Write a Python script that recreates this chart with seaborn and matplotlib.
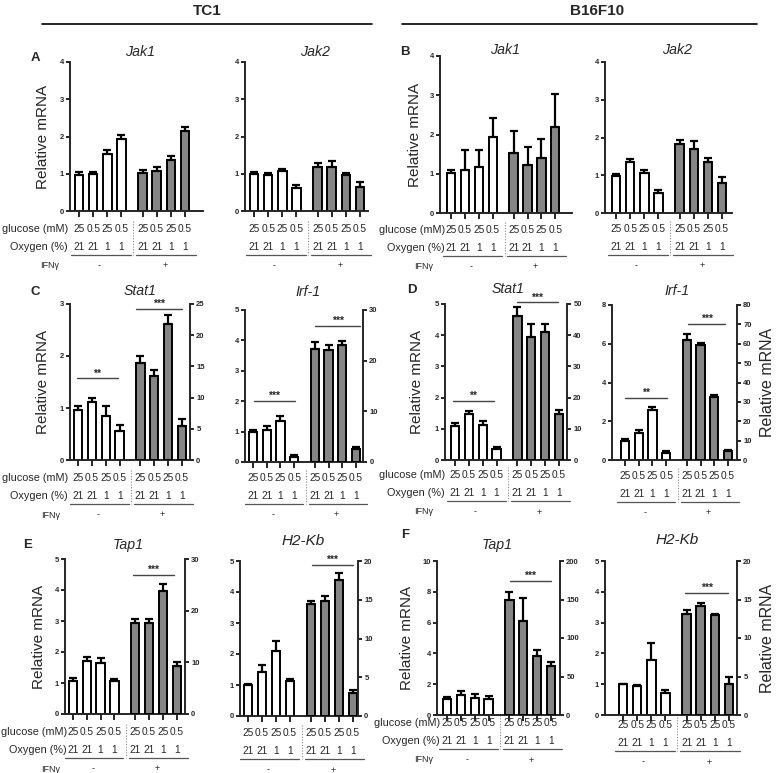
import numpy as np
import pandas as pd
import matplotlib
matplotlib.use('Agg')
import matplotlib.pyplot as plt
import matplotlib.transforms as mtransforms
import seaborn as sns

# ---- table under each panel
glucose = ['25', '0.5', '25', '0.5']
oxygen = ['21', '21', '1', '1']
ifng = ['-', '+']

# ---- data: mean and upper SEM; "minus" = no IFNy (white, left axis),
# "plus" = IFNy (grey, right axis when a panel has one)
tc1_jak1_minus, tc1_jak1_minus_sem = [0.96, 1.00, 1.53, 1.94], [0.08, 0.05, 0.12, 0.11]
tc1_jak1_plus, tc1_jak1_plus_sem = [1.02, 1.08, 1.36, 2.16], [0.08, 0.11, 0.12, 0.09]
tc1_jak2_minus, tc1_jak2_minus_sem = [1.00, 0.97, 1.07, 0.63], [0.04, 0.05, 0.05, 0.08]
tc1_jak2_plus, tc1_jak2_plus_sem = [1.18, 1.17, 0.97, 0.65], [0.10, 0.18, 0.06, 0.12]

b16_jak1_minus, b16_jak1_minus_sem = [1.02, 1.10, 1.17, 1.93], [0.08, 0.50, 0.43, 0.49]
b16_jak1_plus, b16_jak1_plus_sem = [1.53, 1.23, 1.40, 2.20], [0.57, 0.44, 0.49, 0.82]
b16_jak2_minus, b16_jak2_minus_sem = [0.98, 1.34, 1.05, 0.53], [0.04, 0.08, 0.09, 0.09]
b16_jak2_plus, b16_jak2_plus_sem = [1.83, 1.70, 1.36, 0.80], [0.10, 0.20, 0.11, 0.16]

tc1_stat1_minus, tc1_stat1_minus_sem = [0.96, 1.12, 0.85, 0.56], [0.08, 0.08, 0.19, 0.11]
tc1_stat1_plus, tc1_stat1_plus_sem = [15.6, 13.4, 21.8, 5.5], [1.0, 1.0, 1.4, 1.1]
tc1_irf1_minus, tc1_irf1_minus_sem = [0.99, 1.06, 1.35, 0.15], [0.07, 0.13, 0.16, 0.07]
tc1_irf1_plus, tc1_irf1_plus_sem = [22.4, 22.1, 23.0, 2.6], [1.3, 1.0, 0.9, 0.4]

b16_stat1_minus, b16_stat1_minus_sem = [1.09, 1.48, 1.12, 0.35], [0.08, 0.08, 0.13, 0.08]
b16_stat1_plus, b16_stat1_plus_sem = [46.2, 39.3, 41.0, 14.6], [2.7, 4.4, 2.6, 1.5]
b16_irf1_minus, b16_irf1_minus_sem = [1.00, 1.40, 2.57, 0.35], [0.06, 0.13, 0.17, 0.10]
b16_irf1_plus, b16_irf1_plus_sem = [62.1, 59.2, 32.5, 4.5], [2.8, 1.2, 1.2, 0.6]

tc1_tap1_minus, tc1_tap1_minus_sem = [1.05, 1.71, 1.66, 1.08], [0.10, 0.14, 0.16, 0.04]
tc1_tap1_plus, tc1_tap1_plus_sem = [17.7, 17.7, 23.8, 9.3], [0.6, 0.6, 1.3, 0.7]
tc1_h2kb_minus, tc1_h2kb_minus_sem = [1.00, 1.43, 2.10, 1.13], [0.03, 0.20, 0.33, 0.06]
tc1_h2kb_plus, tc1_h2kb_plus_sem = [14.5, 14.9, 17.6, 3.0], [0.3, 0.6, 0.8, 0.4]

b16_tap1_minus, b16_tap1_minus_sem = [1.04, 1.33, 1.12, 1.03], [0.10, 0.20, 0.22, 0.22]
b16_tap1_plus, b16_tap1_plus_sem = [149, 122, 76, 64], [11, 30, 8, 5]
b16_h2kb_minus, b16_h2kb_minus_sem = [1.00, 0.93, 1.80, 0.73], [0.0, 0.04, 0.55, 0.09]
b16_h2kb_plus, b16_h2kb_plus_sem = [13.1, 14.2, 13.0, 4.0], [0.5, 0.3, 0.1, 0.9]

# ---- layout (pixels in a 778x773 canvas)
panels = [
    dict(rect=(70, 62, 203, 211), xlim=(-0.64, 8.78), left=(4, 1), right=None, title='Jak1', tpos=(140, 52),
         letter='A', lpos=(35, 58), ylab=('left', 43), rowlab=(68, 59), gy=229,
         data=(tc1_jak1_minus, tc1_jak1_minus_sem, tc1_jak1_plus, tc1_jak1_plus_sem), sig=[]),
    dict(rect=(245, 62, 368, 211), xlim=(-0.64, 8.07), left=(4, 1), right=None, title='Jak2', tpos=(315, 52),
         gy=229, data=(tc1_jak2_minus, tc1_jak2_minus_sem, tc1_jak2_plus, tc1_jak2_plus_sem), sig=[]),
    dict(rect=(440, 56, 572, 213), xlim=(-0.8, 8.7), left=(4, 1), right=None, title='Jak1', tpos=(505, 50),
         letter='B', lpos=(405, 52), ylab=('left', 415), rowlab=(445, 433), gy=230,
         data=(b16_jak1_minus, b16_jak1_minus_sem, b16_jak1_plus, b16_jak1_plus_sem), sig=[]),
    dict(rect=(605, 62, 732, 213), xlim=(-0.78, 8.2), left=(4, 1), right=None, title='Jak2', tpos=(677, 50),
         gy=229, data=(b16_jak2_minus, b16_jak2_minus_sem, b16_jak2_plus, b16_jak2_plus_sem), sig=[]),
    dict(rect=(70, 304, 190, 460), xlim=(-0.58, 8.08), left=(3, 1), right=(25, 5), title='Stat1', tpos=(140, 291),
         letter='C', lpos=(35, 292), ylab=('left', 43), rowlab=(68, 60), gy=478,
         data=(tc1_stat1_minus, tc1_stat1_minus_sem, tc1_stat1_plus, tc1_stat1_plus_sem),
         sig=[(-0.1, 2.9, 1.57, '**'), (4.15, 7.5, 2.9, '***')]),
    dict(rect=(245, 310, 363, 462), xlim=(-0.58, 8.0), left=(5, 1), right=(30, 10), title='Irf-1', tpos=(308, 292),
         gy=478, data=(tc1_irf1_minus, tc1_irf1_minus_sem, tc1_irf1_plus, tc1_irf1_plus_sem),
         sig=[(0.05, 3.05, 2.0, '***'), (4.5, 7.8, 4.48, '***')]),
    dict(rect=(445, 304, 567, 460), xlim=(-0.72, 8.08), left=(5, 1), right=(50, 10), title='Stat1', tpos=(508, 289),
         letter='D', lpos=(412, 290), ylab=('left', 417), rowlab=(445, 433), gy=475,
         data=(b16_stat1_minus, b16_stat1_minus_sem, b16_stat1_plus, b16_stat1_plus_sem),
         sig=[(-0.15, 2.8, 1.89, '**'), (4.45, 7.4, 5.05, '***')]),
    dict(rect=(612, 305, 737, 460), xlim=(-0.95, 8.16), left=(8, 2), right=(80, 10), title='Irf-1', tpos=(677, 291),
         ylab=('right', 767), gy=476,
         data=(b16_irf1_minus, b16_irf1_minus_sem, b16_irf1_plus, b16_irf1_plus_sem),
         sig=[(0.0, 3.07, 3.2, '**'), (4.6, 7.3, 7.03, '***')]),
    dict(rect=(65, 559, 185, 714), xlim=(-0.57, 8.1), left=(5, 1), right=(30, 10), title='Tap1', tpos=(128, 545),
         letter='E', lpos=(28, 545), ylab=('left', 39), rowlab=(67, 60), gy=732,
         data=(tc1_tap1_minus, tc1_tap1_minus_sem, tc1_tap1_plus, tc1_tap1_plus_sem),
         sig=[(4.35, 7.27, 4.49, '***')]),
    dict(rect=(240, 561, 358, 716), xlim=(-0.57, 7.86), left=(5, 1), right=(20, 5), title='H2-Kb', tpos=(303, 541),
         gy=733, data=(tc1_h2kb_minus, tc1_h2kb_minus_sem, tc1_h2kb_plus, tc1_h2kb_plus_sem),
         sig=[(4.57, 7.5, 4.86, '***')]),
    dict(rect=(437, 561, 560, 715), xlim=(-0.72, 8.15), left=(10, 2), right=(200, 50), title='Tap1', tpos=(497, 545),
         letter='F', lpos=(405, 535), ylab=('left', 407), rowlab=(440, 433), gy=723,
         data=(b16_tap1_minus, b16_tap1_minus_sem, b16_tap1_plus, b16_tap1_plus_sem),
         sig=[(4.53, 7.48, 8.68, '***')]),
    dict(rect=(605, 561, 737, 715), xlim=(-1.28, 8.07), left=(5, 1), right=(20, 5), title='H2-Kb', tpos=(677, 540),
         ylab=('right', 767), gy=725,
         data=(b16_h2kb_minus, b16_h2kb_minus_sem, b16_h2kb_plus, b16_h2kb_plus_sem),
         sig=[(4.4, 7.45, 3.96, '***')]),
]

pos_minus = [0, 1, 2, 3]
pos_plus = [4.5, 5.5, 6.5, 7.5]
WHITE, GREY = 'white', '#858585'
W, H = 778, 773

sns.set_style('ticks')
plt.rcParams['font.family'] = ['Liberation Sans', 'DejaVu Sans']

fig = plt.figure(figsize=(W / 100, H / 100), dpi=100)


def fx(x):
    return x / W


def fy(y):
    return 1 - y / H


def bars(ax, pos, vals, sem, color):
    df = pd.DataFrame({'pos': pos, 'val': vals})
    sns.barplot(data=df, x='pos', y='val', native_scale=True, width=0.6, color=color, saturation=1,
                edgecolor='black', linewidth=1.4, errorbar=None, ax=ax)
    ax.errorbar(pos, vals, yerr=[np.zeros(len(sem)), sem], fmt='none', ecolor='black',
                elinewidth=1.6, capsize=2.6, capthick=1.6, zorder=3)


def style_y(ax, top, step):
    ax.set_ylim(0, top)
    ax.set_yticks(np.arange(0, top + step / 2, step))
    ax.tick_params(axis='y', length=3, width=1.4, labelsize=5.5, pad=1.5)
    for lab in ax.get_yticklabels():
        lab.set_fontweight('bold')
    ax.set_ylabel('')
    ax.set_xlabel('')


for p in panels:
    l, t, r, b = p['rect']
    ax = fig.add_axes([fx(l), fy(b), fx(r) - fx(l), fy(t) - fy(b)])
    m, ms, pl, ps = p['data']
    bars(ax, pos_minus, m, ms, WHITE)
    if p['right'] is None:
        bars(ax, pos_plus, pl, ps, GREY)
    else:
        ax2 = ax.twinx()
        bars(ax2, pos_plus, pl, ps, GREY)
        style_y(ax2, p['right'][0], p['right'][1])
        for s in ['top', 'left', 'bottom']:
            ax2.spines[s].set_visible(False)
        ax2.spines['right'].set_linewidth(1.4)
    style_y(ax, p['left'][0], p['left'][1])
    for s in ['top', 'right']:
        ax.spines[s].set_visible(False)
    for s in ['left', 'bottom']:
        ax.spines[s].set_linewidth(1.4)
    ax.set_xticks(pos_minus + pos_plus)
    ax.set_xticklabels([])
    ax.tick_params(axis='x', length=4, width=1.4)
    ax.set_xlim(*p['xlim'])

    # table under the axis
    trans = mtransforms.blended_transform_factory(ax.transData, fig.transFigure)
    gy = p['gy']
    for x, g, o in zip(pos_minus + pos_plus, glucose * 2, oxygen * 2):
        ax.text(x, fy(gy), g, transform=trans, ha='center', va='center', fontsize=7.3, clip_on=False)
        ax.text(x, fy(gy + 18), o, transform=trans, ha='center', va='center', fontsize=7.3, clip_on=False)
    for (x0, x1), sign in zip([(-0.55, 3.65), (4.05, 8.3)], ifng):
        ax.plot([x0, x1], [fy(gy + 26)] * 2, transform=trans, color='#555555', lw=0.9, clip_on=False)
        ax.text((x0 + x1) / 2 - 0.1, fy(gy + 37), sign, transform=trans, ha='center', va='center',
                fontsize=6.5, clip_on=False)
    ax.plot([3.85, 3.85], [fy(gy - 8), fy(gy + 26)], transform=trans, color='#888888', lw=0.8,
            ls=(0, (1, 1.5)), clip_on=False)
    if 'rowlab' in p:
        rx, ix = p['rowlab']
        fig.text(fx(rx), fy(gy), 'glucose (mM)', ha='right', va='center', fontsize=7.8)
        fig.text(fx(rx), fy(gy + 18), 'Oxygen (%)', ha='right', va='center', fontsize=7.8)
        fig.text(fx(ix), fy(gy + 37), 'IFNγ', ha='right', va='center', fontsize=6.5)

    # significance bars (in left-axis units)
    for x0, x1, y, txt in p['sig']:
        ax.plot([x0, x1], [y, y], color='#444444', lw=1.0, clip_on=False, zorder=5)
        ax.text((x0 + x1) / 2, y, txt, ha='center', va='bottom', fontsize=7.5, fontweight='bold',
                clip_on=False, zorder=5)

    fig.text(fx(p['tpos'][0]), fy(p['tpos'][1]), p['title'], ha='center', va='center',
             fontsize=11 if p['title'] == 'H2-Kb' else 10.2, style='italic')
    if 'letter' in p:
        fig.text(fx(p['lpos'][0]), fy(p['lpos'][1]), p['letter'], ha='center', va='center',
                 fontsize=9.5, fontweight='bold')
    if 'ylab' in p:
        fig.text(fx(p['ylab'][1]), fy((t + b) / 2), 'Relative mRNA', rotation=90, ha='center', va='center',
                 fontsize=11 if p['ylab'][0] == 'left' else 11.5)

# cell line headers
for name, cx, x0, x1 in [('TC1', 207, 42, 372), ('B16F10', 597, 402, 757)]:
    fig.text(fx(cx), fy(11), name, ha='center', va='center', fontsize=11, fontweight='bold')
    fig.add_artist(plt.Line2D([fx(x0), fx(x1)], [fy(24), fy(24)], color='black', lw=1.2))

fig.savefig('out.png', dpi=100)
